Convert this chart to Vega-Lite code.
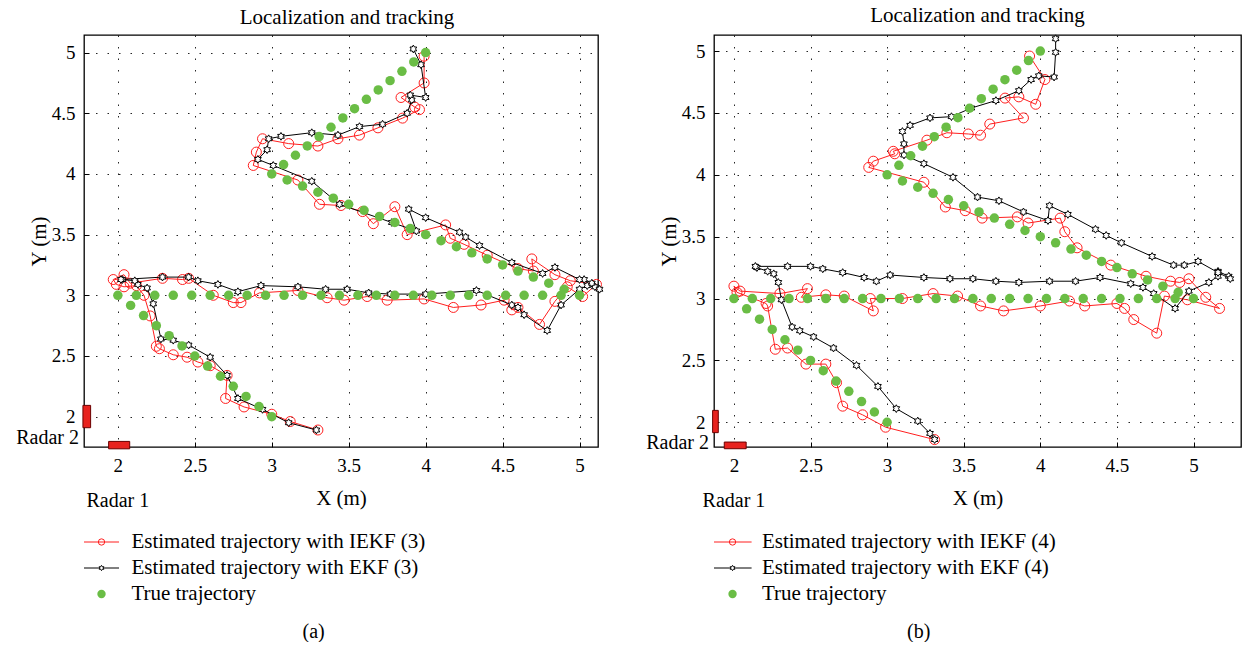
{
"$schema": "https://vega.github.io/schema/vega-lite/v6.json",
"background": "white",
"padding": {"left": 15, "top": 4, "right": 0, "bottom": 0},
"config": {
 "font": "Liberation Serif",
 "view": {"stroke": "#000", "strokeWidth": 1.3},
 "axis": {"labelFont": "Liberation Serif", "labelFontSize": 19, "labelColor": "#000", "titleFont": "Liberation Serif", "titleFontSize": 21, "titleFontWeight": "normal", "titleColor": "#000", "domain": false, "grid": true, "gridColor": "#000", "gridDash": [1.5, 10], "gridOpacity": 0.85, "gridWidth": 1, "tickColor": "#000", "tickSize": -5, "labelPadding": 14, "format": "~g"},
 "axisX": {"titlePadding": 12},
 "axisY": {"titlePadding": 2},
 "title": {"font": "Liberation Serif", "fontSize": 21, "fontWeight": "normal", "color": "#000", "offset": 7}
},
"datasets": {
 "truth": [{"x":3.0,"y":2.0},{"x":2.917,"y":2.083},{"x":2.833,"y":2.167},{"x":2.75,"y":2.25},{"x":2.667,"y":2.333},{"x":2.583,"y":2.417},{"x":2.5,"y":2.5},{"x":2.417,"y":2.583},{"x":2.333,"y":2.667},{"x":2.25,"y":2.75},{"x":2.167,"y":2.833},{"x":2.083,"y":2.917},{"x":2.0,"y":3.0},
  {"x":2.12,"y":3},{"x":2.24,"y":3},{"x":2.36,"y":3},{"x":2.48,"y":3},{"x":2.6,"y":3},{"x":2.72,"y":3},{"x":2.84,"y":3},{"x":2.96,"y":3},{"x":3.08,"y":3},{"x":3.2,"y":3},{"x":3.32,"y":3},{"x":3.44,"y":3},{"x":3.56,"y":3},{"x":3.68,"y":3},{"x":3.8,"y":3},{"x":3.92,"y":3},{"x":4.04,"y":3},{"x":4.16,"y":3},{"x":4.28,"y":3},{"x":4.4,"y":3},{"x":4.52,"y":3},{"x":4.64,"y":3},{"x":4.76,"y":3},{"x":4.88,"y":3},{"x":5.0,"y":3},
  {"x":4.9,"y":3.05},{"x":4.8,"y":3.1},{"x":4.7,"y":3.15},{"x":4.6,"y":3.2},{"x":4.5,"y":3.25},{"x":4.4,"y":3.3},{"x":4.3,"y":3.35},{"x":4.2,"y":3.4},{"x":4.1,"y":3.45},{"x":4.0,"y":3.5},{"x":3.9,"y":3.55},{"x":3.8,"y":3.6},{"x":3.7,"y":3.65},{"x":3.6,"y":3.7},{"x":3.5,"y":3.75},{"x":3.4,"y":3.8},{"x":3.3,"y":3.85},{"x":3.2,"y":3.9},{"x":3.1,"y":3.95},{"x":3.0,"y":4.0},
  {"x":3.077,"y":4.077},{"x":3.154,"y":4.154},{"x":3.231,"y":4.231},{"x":3.308,"y":4.308},{"x":3.385,"y":4.385},{"x":3.462,"y":4.462},{"x":3.538,"y":4.538},{"x":3.615,"y":4.615},{"x":3.692,"y":4.692},{"x":3.769,"y":4.769},{"x":3.846,"y":4.846},{"x":3.923,"y":4.923},{"x":4.0,"y":5.0}],
 "est": [
  {"p":"a","s":"IEKF","i":1,"x":3.30,"y":1.89},{"p":"a","s":"IEKF","i":2,"x":3.12,"y":1.96},{"p":"a","s":"IEKF","i":3,"x":3.00,"y":2.02},{"p":"a","s":"IEKF","i":4,"x":2.82,"y":2.08},{"p":"a","s":"IEKF","i":5,"x":2.70,"y":2.15},{"p":"a","s":"IEKF","i":6,"x":2.71,"y":2.34},{"p":"a","s":"IEKF","i":7,"x":2.60,"y":2.42},{"p":"a","s":"IEKF","i":8,"x":2.52,"y":2.45},{"p":"a","s":"IEKF","i":9,"x":2.45,"y":2.49},{"p":"a","s":"IEKF","i":10,"x":2.36,"y":2.51},
  {"p":"a","s":"IEKF","i":11,"x":2.27,"y":2.56},{"p":"a","s":"IEKF","i":12,"x":2.25,"y":2.58},{"p":"a","s":"IEKF","i":13,"x":2.21,"y":2.83},{"p":"a","s":"IEKF","i":14,"x":2.17,"y":3.00},{"p":"a","s":"IEKF","i":15,"x":2.12,"y":3.08},{"p":"a","s":"IEKF","i":16,"x":2.04,"y":3.07},{"p":"a","s":"IEKF","i":17,"x":1.99,"y":3.09},{"p":"a","s":"IEKF","i":18,"x":1.97,"y":3.13},{"p":"a","s":"IEKF","i":19,"x":2.04,"y":3.17},{"p":"a","s":"IEKF","i":20,"x":2.08,"y":3.10},
  {"p":"a","s":"IEKF","i":21,"x":2.29,"y":3.14},{"p":"a","s":"IEKF","i":22,"x":2.42,"y":3.13},{"p":"a","s":"IEKF","i":23,"x":2.46,"y":3.14},{"p":"a","s":"IEKF","i":24,"x":2.62,"y":3.00},{"p":"a","s":"IEKF","i":25,"x":2.75,"y":2.94},{"p":"a","s":"IEKF","i":26,"x":2.80,"y":2.94},{"p":"a","s":"IEKF","i":27,"x":2.92,"y":3.02},{"p":"a","s":"IEKF","i":28,"x":3.17,"y":3.04},{"p":"a","s":"IEKF","i":29,"x":3.36,"y":2.98},{"p":"a","s":"IEKF","i":30,"x":3.47,"y":2.96},
  {"p":"a","s":"IEKF","i":31,"x":3.62,"y":2.99},{"p":"a","s":"IEKF","i":32,"x":3.75,"y":2.96},{"p":"a","s":"IEKF","i":33,"x":3.99,"y":2.97},{"p":"a","s":"IEKF","i":34,"x":4.18,"y":2.90},{"p":"a","s":"IEKF","i":35,"x":4.36,"y":2.92},{"p":"a","s":"IEKF","i":36,"x":4.51,"y":2.96},{"p":"a","s":"IEKF","i":37,"x":4.56,"y":2.88},{"p":"a","s":"IEKF","i":38,"x":4.60,"y":2.90},{"p":"a","s":"IEKF","i":39,"x":4.74,"y":2.76},{"p":"a","s":"IEKF","i":40,"x":4.84,"y":2.95},
  {"p":"a","s":"IEKF","i":41,"x":4.92,"y":3.07},{"p":"a","s":"IEKF","i":42,"x":5.02,"y":2.99},{"p":"a","s":"IEKF","i":43,"x":5.11,"y":3.09},{"p":"a","s":"IEKF","i":44,"x":4.94,"y":3.12},{"p":"a","s":"IEKF","i":45,"x":4.84,"y":3.17},{"p":"a","s":"IEKF","i":46,"x":4.69,"y":3.30},{"p":"a","s":"IEKF","i":47,"x":4.70,"y":3.20},{"p":"a","s":"IEKF","i":48,"x":4.60,"y":3.22},{"p":"a","s":"IEKF","i":49,"x":4.40,"y":3.33},{"p":"a","s":"IEKF","i":50,"x":4.25,"y":3.42},
  {"p":"a","s":"IEKF","i":51,"x":4.16,"y":3.47},{"p":"a","s":"IEKF","i":52,"x":4.13,"y":3.58},{"p":"a","s":"IEKF","i":53,"x":3.88,"y":3.50},{"p":"a","s":"IEKF","i":54,"x":3.80,"y":3.73},{"p":"a","s":"IEKF","i":55,"x":3.66,"y":3.59},{"p":"a","s":"IEKF","i":56,"x":3.59,"y":3.69},{"p":"a","s":"IEKF","i":57,"x":3.45,"y":3.74},{"p":"a","s":"IEKF","i":58,"x":3.31,"y":3.75},{"p":"a","s":"IEKF","i":59,"x":3.17,"y":3.95},{"p":"a","s":"IEKF","i":60,"x":2.88,"y":4.07},
  {"p":"a","s":"IEKF","i":61,"x":2.90,"y":4.18},{"p":"a","s":"IEKF","i":62,"x":2.94,"y":4.29},{"p":"a","s":"IEKF","i":63,"x":3.11,"y":4.25},{"p":"a","s":"IEKF","i":64,"x":3.30,"y":4.23},{"p":"a","s":"IEKF","i":65,"x":3.43,"y":4.29},{"p":"a","s":"IEKF","i":66,"x":3.57,"y":4.32},{"p":"a","s":"IEKF","i":67,"x":3.69,"y":4.38},{"p":"a","s":"IEKF","i":68,"x":3.85,"y":4.46},{"p":"a","s":"IEKF","i":69,"x":3.96,"y":4.53},{"p":"a","s":"IEKF","i":70,"x":3.93,"y":4.55},
  {"p":"a","s":"IEKF","i":71,"x":3.84,"y":4.63},{"p":"a","s":"IEKF","i":72,"x":3.99,"y":4.75},{"p":"a","s":"IEKF","i":73,"x":3.99,"y":4.97},
  {"p":"a","s":"EKF","i":1,"x":3.29,"y":1.89},{"p":"a","s":"EKF","i":2,"x":3.11,"y":1.95},{"p":"a","s":"EKF","i":3,"x":2.94,"y":2.06},{"p":"a","s":"EKF","i":4,"x":2.78,"y":2.15},{"p":"a","s":"EKF","i":5,"x":2.71,"y":2.34},{"p":"a","s":"EKF","i":6,"x":2.60,"y":2.49},{"p":"a","s":"EKF","i":7,"x":2.46,"y":2.59},{"p":"a","s":"EKF","i":8,"x":2.36,"y":2.63},{"p":"a","s":"EKF","i":9,"x":2.28,"y":2.64},{"p":"a","s":"EKF","i":10,"x":2.23,"y":2.93},
  {"p":"a","s":"EKF","i":11,"x":2.19,"y":3.06},{"p":"a","s":"EKF","i":12,"x":2.13,"y":3.09},{"p":"a","s":"EKF","i":13,"x":2.11,"y":3.12},{"p":"a","s":"EKF","i":14,"x":2.03,"y":3.13},{"p":"a","s":"EKF","i":15,"x":2.02,"y":3.13},{"p":"a","s":"EKF","i":16,"x":2.29,"y":3.15},{"p":"a","s":"EKF","i":17,"x":2.46,"y":3.15},{"p":"a","s":"EKF","i":18,"x":2.52,"y":3.12},{"p":"a","s":"EKF","i":19,"x":2.65,"y":3.09},{"p":"a","s":"EKF","i":20,"x":2.78,"y":3.03},
  {"p":"a","s":"EKF","i":21,"x":2.93,"y":3.08},{"p":"a","s":"EKF","i":22,"x":3.17,"y":3.07},{"p":"a","s":"EKF","i":23,"x":3.35,"y":3.05},{"p":"a","s":"EKF","i":24,"x":3.49,"y":3.05},{"p":"a","s":"EKF","i":25,"x":3.63,"y":3.02},{"p":"a","s":"EKF","i":26,"x":3.77,"y":3.01},{"p":"a","s":"EKF","i":27,"x":4.00,"y":3.01},{"p":"a","s":"EKF","i":28,"x":4.33,"y":3.04},{"p":"a","s":"EKF","i":29,"x":4.56,"y":2.92},{"p":"a","s":"EKF","i":30,"x":4.60,"y":2.90},
  {"p":"a","s":"EKF","i":31,"x":4.64,"y":2.84},{"p":"a","s":"EKF","i":32,"x":4.79,"y":2.71},{"p":"a","s":"EKF","i":33,"x":4.88,"y":2.92},{"p":"a","s":"EKF","i":34,"x":5.00,"y":3.05},{"p":"a","s":"EKF","i":35,"x":5.05,"y":3.08},{"p":"a","s":"EKF","i":36,"x":5.10,"y":3.07},{"p":"a","s":"EKF","i":37,"x":5.13,"y":3.05},{"p":"a","s":"EKF","i":38,"x":5.08,"y":3.10},{"p":"a","s":"EKF","i":39,"x":5.03,"y":3.13},{"p":"a","s":"EKF","i":40,"x":5.00,"y":3.13},
  {"p":"a","s":"EKF","i":41,"x":4.84,"y":3.23},{"p":"a","s":"EKF","i":42,"x":4.76,"y":3.18},{"p":"a","s":"EKF","i":43,"x":4.56,"y":3.27},{"p":"a","s":"EKF","i":44,"x":4.35,"y":3.41},{"p":"a","s":"EKF","i":45,"x":4.26,"y":3.48},{"p":"a","s":"EKF","i":46,"x":4.22,"y":3.52},{"p":"a","s":"EKF","i":47,"x":4.00,"y":3.64},{"p":"a","s":"EKF","i":48,"x":3.89,"y":3.71},{"p":"a","s":"EKF","i":49,"x":3.94,"y":3.53},{"p":"a","s":"EKF","i":50,"x":3.78,"y":3.60},
  {"p":"a","s":"EKF","i":51,"x":3.44,"y":3.75},{"p":"a","s":"EKF","i":52,"x":3.26,"y":3.94},{"p":"a","s":"EKF","i":53,"x":3.01,"y":4.07},{"p":"a","s":"EKF","i":54,"x":2.91,"y":4.12},{"p":"a","s":"EKF","i":55,"x":2.97,"y":4.20},{"p":"a","s":"EKF","i":56,"x":2.98,"y":4.29},{"p":"a","s":"EKF","i":57,"x":3.06,"y":4.31},{"p":"a","s":"EKF","i":58,"x":3.26,"y":4.34},{"p":"a","s":"EKF","i":59,"x":3.43,"y":4.32},{"p":"a","s":"EKF","i":60,"x":3.57,"y":4.39},
  {"p":"a","s":"EKF","i":61,"x":3.72,"y":4.41},{"p":"a","s":"EKF","i":62,"x":3.88,"y":4.50},{"p":"a","s":"EKF","i":63,"x":3.91,"y":4.61},{"p":"a","s":"EKF","i":64,"x":3.90,"y":4.65},{"p":"a","s":"EKF","i":65,"x":4.00,"y":4.63},{"p":"a","s":"EKF","i":66,"x":3.97,"y":4.90},{"p":"a","s":"EKF","i":67,"x":3.92,"y":5.03},
  {"p":"b","s":"IEKF","i":1,"x":3.31,"y":1.86},{"p":"b","s":"IEKF","i":2,"x":2.99,"y":1.96},{"p":"b","s":"IEKF","i":3,"x":2.84,"y":2.06},{"p":"b","s":"IEKF","i":4,"x":2.71,"y":2.13},{"p":"b","s":"IEKF","i":5,"x":2.67,"y":2.32},{"p":"b","s":"IEKF","i":6,"x":2.60,"y":2.47},{"p":"b","s":"IEKF","i":7,"x":2.47,"y":2.47},{"p":"b","s":"IEKF","i":8,"x":2.35,"y":2.60},{"p":"b","s":"IEKF","i":9,"x":2.27,"y":2.59},{"p":"b","s":"IEKF","i":10,"x":2.22,"y":2.94},
  {"p":"b","s":"IEKF","i":11,"x":2.21,"y":2.96},{"p":"b","s":"IEKF","i":12,"x":2.02,"y":3.05},{"p":"b","s":"IEKF","i":13,"x":2.00,"y":3.10},{"p":"b","s":"IEKF","i":14,"x":2.04,"y":3.06},{"p":"b","s":"IEKF","i":15,"x":2.30,"y":3.04},{"p":"b","s":"IEKF","i":16,"x":2.48,"y":3.08},{"p":"b","s":"IEKF","i":17,"x":2.44,"y":3.01},{"p":"b","s":"IEKF","i":18,"x":2.60,"y":3.03},{"p":"b","s":"IEKF","i":19,"x":2.72,"y":3.02},{"p":"b","s":"IEKF","i":20,"x":2.91,"y":2.90},
  {"p":"b","s":"IEKF","i":21,"x":2.89,"y":3.00},{"p":"b","s":"IEKF","i":22,"x":3.10,"y":3.00},{"p":"b","s":"IEKF","i":23,"x":3.30,"y":3.04},{"p":"b","s":"IEKF","i":24,"x":3.46,"y":3.02},{"p":"b","s":"IEKF","i":25,"x":3.61,"y":2.94},{"p":"b","s":"IEKF","i":26,"x":3.76,"y":2.90},{"p":"b","s":"IEKF","i":27,"x":4.00,"y":2.94},{"p":"b","s":"IEKF","i":28,"x":4.19,"y":2.98},{"p":"b","s":"IEKF","i":29,"x":4.29,"y":2.94},{"p":"b","s":"IEKF","i":30,"x":4.50,"y":2.96},
  {"p":"b","s":"IEKF","i":31,"x":4.55,"y":2.92},{"p":"b","s":"IEKF","i":32,"x":4.61,"y":2.83},{"p":"b","s":"IEKF","i":33,"x":4.76,"y":2.72},{"p":"b","s":"IEKF","i":34,"x":4.81,"y":3.02},{"p":"b","s":"IEKF","i":35,"x":4.96,"y":2.99},{"p":"b","s":"IEKF","i":36,"x":5.17,"y":2.92},{"p":"b","s":"IEKF","i":37,"x":5.08,"y":3.01},{"p":"b","s":"IEKF","i":38,"x":4.97,"y":3.16},{"p":"b","s":"IEKF","i":39,"x":4.91,"y":3.13},{"p":"b","s":"IEKF","i":40,"x":4.85,"y":3.14},
  {"p":"b","s":"IEKF","i":41,"x":4.69,"y":3.18},{"p":"b","s":"IEKF","i":42,"x":4.46,"y":3.27},{"p":"b","s":"IEKF","i":43,"x":4.24,"y":3.41},{"p":"b","s":"IEKF","i":44,"x":4.16,"y":3.54},{"p":"b","s":"IEKF","i":45,"x":4.13,"y":3.65},{"p":"b","s":"IEKF","i":46,"x":3.92,"y":3.61},{"p":"b","s":"IEKF","i":47,"x":3.85,"y":3.66},{"p":"b","s":"IEKF","i":48,"x":3.62,"y":3.65},{"p":"b","s":"IEKF","i":49,"x":3.51,"y":3.71},{"p":"b","s":"IEKF","i":50,"x":3.38,"y":3.74},
  {"p":"b","s":"IEKF","i":51,"x":3.24,"y":3.94},{"p":"b","s":"IEKF","i":52,"x":2.88,"y":4.06},{"p":"b","s":"IEKF","i":53,"x":2.91,"y":4.11},{"p":"b","s":"IEKF","i":54,"x":3.05,"y":4.17},{"p":"b","s":"IEKF","i":55,"x":3.04,"y":4.19},{"p":"b","s":"IEKF","i":56,"x":3.26,"y":4.28},{"p":"b","s":"IEKF","i":57,"x":3.39,"y":4.34},{"p":"b","s":"IEKF","i":58,"x":3.53,"y":4.33},{"p":"b","s":"IEKF","i":59,"x":3.61,"y":4.32},{"p":"b","s":"IEKF","i":60,"x":3.67,"y":4.41},
  {"p":"b","s":"IEKF","i":61,"x":3.89,"y":4.46},{"p":"b","s":"IEKF","i":62,"x":3.77,"y":4.62},{"p":"b","s":"IEKF","i":63,"x":3.86,"y":4.63},{"p":"b","s":"IEKF","i":64,"x":3.97,"y":4.57},{"p":"b","s":"IEKF","i":65,"x":4.03,"y":4.77},{"p":"b","s":"IEKF","i":66,"x":3.93,"y":4.96},
  {"p":"b","s":"EKF","i":1,"x":3.31,"y":1.86},{"p":"b","s":"EKF","i":2,"x":3.28,"y":1.91},{"p":"b","s":"EKF","i":3,"x":3.20,"y":2.01},{"p":"b","s":"EKF","i":4,"x":3.06,"y":2.11},{"p":"b","s":"EKF","i":5,"x":2.94,"y":2.29},{"p":"b","s":"EKF","i":6,"x":2.80,"y":2.46},{"p":"b","s":"EKF","i":7,"x":2.65,"y":2.60},{"p":"b","s":"EKF","i":8,"x":2.52,"y":2.69},{"p":"b","s":"EKF","i":9,"x":2.43,"y":2.74},{"p":"b","s":"EKF","i":10,"x":2.38,"y":2.77},
  {"p":"b","s":"EKF","i":11,"x":2.31,"y":2.99},{"p":"b","s":"EKF","i":12,"x":2.29,"y":3.13},{"p":"b","s":"EKF","i":13,"x":2.26,"y":3.20},{"p":"b","s":"EKF","i":14,"x":2.22,"y":3.22},{"p":"b","s":"EKF","i":15,"x":2.15,"y":3.25},{"p":"b","s":"EKF","i":16,"x":2.14,"y":3.26},{"p":"b","s":"EKF","i":17,"x":2.35,"y":3.26},{"p":"b","s":"EKF","i":18,"x":2.50,"y":3.26},{"p":"b","s":"EKF","i":19,"x":2.58,"y":3.24},{"p":"b","s":"EKF","i":20,"x":2.71,"y":3.21},
  {"p":"b","s":"EKF","i":21,"x":2.85,"y":3.17},{"p":"b","s":"EKF","i":22,"x":2.93,"y":3.14},{"p":"b","s":"EKF","i":23,"x":3.02,"y":3.19},{"p":"b","s":"EKF","i":24,"x":3.24,"y":3.17},{"p":"b","s":"EKF","i":25,"x":3.41,"y":3.16},{"p":"b","s":"EKF","i":26,"x":3.56,"y":3.16},{"p":"b","s":"EKF","i":27,"x":3.71,"y":3.14},{"p":"b","s":"EKF","i":28,"x":3.86,"y":3.13},{"p":"b","s":"EKF","i":29,"x":4.06,"y":3.14},{"p":"b","s":"EKF","i":30,"x":4.23,"y":3.14},
  {"p":"b","s":"EKF","i":31,"x":4.39,"y":3.17},{"p":"b","s":"EKF","i":32,"x":4.59,"y":3.12},{"p":"b","s":"EKF","i":33,"x":4.67,"y":3.09},{"p":"b","s":"EKF","i":34,"x":4.74,"y":3.04},{"p":"b","s":"EKF","i":35,"x":4.88,"y":2.92},{"p":"b","s":"EKF","i":36,"x":4.97,"y":3.06},{"p":"b","s":"EKF","i":37,"x":5.10,"y":3.13},{"p":"b","s":"EKF","i":38,"x":5.16,"y":3.18},{"p":"b","s":"EKF","i":39,"x":5.16,"y":3.22},{"p":"b","s":"EKF","i":40,"x":5.23,"y":3.18},
  {"p":"b","s":"EKF","i":41,"x":5.24,"y":3.16},{"p":"b","s":"EKF","i":42,"x":5.16,"y":3.21},{"p":"b","s":"EKF","i":43,"x":5.03,"y":3.30},{"p":"b","s":"EKF","i":44,"x":4.94,"y":3.27},{"p":"b","s":"EKF","i":45,"x":4.87,"y":3.27},{"p":"b","s":"EKF","i":46,"x":4.73,"y":3.34},{"p":"b","s":"EKF","i":47,"x":4.53,"y":3.45},{"p":"b","s":"EKF","i":48,"x":4.43,"y":3.51},{"p":"b","s":"EKF","i":49,"x":4.36,"y":3.56},{"p":"b","s":"EKF","i":50,"x":4.18,"y":3.68},
  {"p":"b","s":"EKF","i":51,"x":4.06,"y":3.75},{"p":"b","s":"EKF","i":52,"x":4.05,"y":3.63},{"p":"b","s":"EKF","i":53,"x":3.89,"y":3.70},{"p":"b","s":"EKF","i":54,"x":3.73,"y":3.79},{"p":"b","s":"EKF","i":55,"x":3.59,"y":3.82},{"p":"b","s":"EKF","i":56,"x":3.43,"y":3.98},{"p":"b","s":"EKF","i":57,"x":3.24,"y":4.09},{"p":"b","s":"EKF","i":58,"x":3.11,"y":4.16},{"p":"b","s":"EKF","i":59,"x":3.11,"y":4.25},{"p":"b","s":"EKF","i":60,"x":3.10,"y":4.35},
  {"p":"b","s":"EKF","i":61,"x":3.15,"y":4.40},{"p":"b","s":"EKF","i":62,"x":3.28,"y":4.46},{"p":"b","s":"EKF","i":63,"x":3.42,"y":4.47},{"p":"b","s":"EKF","i":64,"x":3.55,"y":4.54},{"p":"b","s":"EKF","i":65,"x":3.71,"y":4.60},{"p":"b","s":"EKF","i":66,"x":3.86,"y":4.68},{"p":"b","s":"EKF","i":67,"x":3.94,"y":4.77},{"p":"b","s":"EKF","i":68,"x":3.99,"y":4.80},{"p":"b","s":"EKF","i":69,"x":4.09,"y":4.79},{"p":"b","s":"EKF","i":70,"x":4.10,"y":4.99},
  {"p":"b","s":"EKF","i":71,"x":4.10,"y":5.10}
 ],
 "radar": [
  {"p":"a","x":1.94,"x2":2.077,"y":1.735,"y2":1.796},
  {"p":"a","x":1.773,"x2":1.823,"y":1.909,"y2":2.093},
  {"p":"b","x":1.937,"x2":2.08,"y":1.786,"y2":1.84},
  {"p":"b","x":1.861,"x2":1.898,"y":1.916,"y2":2.096}
 ],
 "notes": [
  {"p":"a","label":"Radar 2","x":1.78,"y":1.826},
  {"p":"a","label":"Radar 1","x":2.0,"y":1.75},
  {"p":"b","label":"Radar 2","x":1.87,"y":1.836},
  {"p":"b","label":"Radar 1","x":2.0,"y":1.80}
 ],
 "leg": [
  {"p":"a","s":"IEKF","label":"Estimated trajectory with IEKF (3)"},
  {"p":"a","s":"EKF","label":"Estimated trajectory with EKF (3)"},
  {"p":"a","s":"True","label":"True trajectory"},
  {"p":"b","s":"IEKF","label":"Estimated trajectory with IEKF (4)"},
  {"p":"b","s":"EKF","label":"Estimated trajectory with EKF (4)"},
  {"p":"b","s":"True","label":"True trajectory"}
 ]
},
"spacing": 39,
"hconcat": [
 {
  "title": {"text": "(a)", "orient": "bottom", "anchor": "middle", "offset": 15, "dx": 3, "fontSize": 20},
  "spacing": 17,
  "vconcat": [
   {
    "width": 514, "height": 412,
    "title": {"text": "Localization and tracking", "frame": "group", "dx": 6},
    "encoding": {
     "x": {"field": "x", "type": "quantitative", "scale": {"domain": [1.78, 5.12], "nice": false, "zero": false}, "axis": {"values": [2, 2.5, 3, 3.5, 4, 4.5, 5], "title": "X (m)"}},
     "y": {"field": "y", "type": "quantitative", "scale": {"domain": [1.75, 5.145], "nice": false, "zero": false}, "axis": {"values": [2, 2.5, 3, 3.5, 4, 4.5, 5], "title": "Y (m)"}}
    },
    "layer": [
     {"data": {"name": "est"}, "transform": [{"filter": "datum.p=='a' && datum.s=='IEKF'"}], "mark": {"type": "line", "color": "#ff1f1f", "strokeWidth": 1, "clip": false}, "encoding": {"order": {"field": "i", "type": "quantitative"}}},
     {"data": {"name": "est"}, "transform": [{"filter": "datum.p=='a' && datum.s=='IEKF'"}], "mark": {"type": "point", "shape": "circle", "filled": false, "color": "#ff1f1f", "strokeWidth": 1, "size": 100, "opacity": 1, "clip": false}},
     {"data": {"name": "est"}, "transform": [{"filter": "datum.p=='a' && datum.s=='EKF'"}], "mark": {"type": "line", "color": "#000000", "strokeWidth": 1, "clip": false}, "encoding": {"order": {"field": "i", "type": "quantitative"}}},
     {"data": {"name": "est"}, "transform": [{"filter": "datum.p=='a' && datum.s=='EKF'"}], "mark": {"type": "point", "shape": "M0,-1L0.289,-0.5L0.866,-0.5L0.577,0L0.866,0.5L0.289,0.5L0,1L-0.289,0.5L-0.866,0.5L-0.577,0L-0.866,-0.5L-0.289,-0.5Z", "filled": true, "fill": "#ffffff", "stroke": "#000000", "strokeWidth": 1, "size": 60, "opacity": 1, "clip": false}},
     {"data": {"name": "truth"}, "mark": {"type": "point", "shape": "circle", "filled": true, "color": "#6abd45", "size": 90, "opacity": 1, "strokeWidth": 0}},
     {"data": {"name": "radar"}, "transform": [{"filter": "datum.p=='a'"}], "mark": {"type": "rect", "fill": "#e8231f", "stroke": "#6a0000", "strokeWidth": 1, "clip": false}, "encoding": {"x2": {"field": "x2"}, "y2": {"field": "y2"}}},
     {"data": {"name": "notes"}, "transform": [{"filter": "datum.p=='a' && datum.label=='Radar 2'"}], "mark": {"type": "text", "align": "right", "baseline": "middle", "dx": -5, "fontSize": 20, "font": "Liberation Serif", "color": "#000", "clip": false}, "encoding": {"text": {"field": "label"}}},
     {"data": {"name": "notes"}, "transform": [{"filter": "datum.p=='a' && datum.label=='Radar 1'"}], "mark": {"type": "text", "align": "center", "baseline": "middle", "dy": 54, "fontSize": 20, "font": "Liberation Serif", "color": "#000", "clip": false}, "encoding": {"text": {"field": "label"}}}
    ]
   },
   {
    "width": 515, "height": 78,
    "view": {"stroke": null},
    "data": {"name": "leg"},
    "transform": [{"filter": "datum.p=='a'"}],
    "encoding": {"y": {"field": "s", "type": "nominal", "sort": ["IEKF", "EKF", "True"], "axis": null}},
    "layer": [
     {"transform": [{"filter": "datum.s=='IEKF'"}], "mark": {"type": "rule", "color": "#ff1f1f", "strokeWidth": 1}, "encoding": {"x": {"datum": 0, "type": "quantitative", "scale": {"domain": [0, 100]}, "axis": null}, "x2": {"datum": 6.8}}},
     {"transform": [{"filter": "datum.s=='EKF'"}], "mark": {"type": "rule", "color": "#000000", "strokeWidth": 1}, "encoding": {"x": {"datum": 0, "type": "quantitative"}, "x2": {"datum": 6.8}}},
     {"transform": [{"filter": "datum.s=='IEKF'"}], "mark": {"type": "point", "shape": "circle", "filled": false, "color": "#ff1f1f", "strokeWidth": 1, "size": 40, "opacity": 1}, "encoding": {"x": {"datum": 3.4, "type": "quantitative"}}},
     {"transform": [{"filter": "datum.s=='EKF'"}], "mark": {"type": "point", "shape": "M0,-1L0.289,-0.5L0.866,-0.5L0.577,0L0.866,0.5L0.289,0.5L0,1L-0.289,0.5L-0.866,0.5L-0.577,0L-0.866,-0.5L-0.289,-0.5Z", "filled": true, "fill": "#ffffff", "stroke": "#000000", "strokeWidth": 1, "size": 28, "opacity": 1}, "encoding": {"x": {"datum": 3.4, "type": "quantitative"}}},
     {"transform": [{"filter": "datum.s=='True'"}], "mark": {"type": "point", "shape": "circle", "filled": true, "color": "#6abd45", "size": 70, "opacity": 1, "strokeWidth": 0}, "encoding": {"x": {"datum": 3.4, "type": "quantitative"}}},
     {"mark": {"type": "text", "align": "left", "baseline": "middle", "fontSize": 21, "font": "Liberation Serif", "color": "#000"}, "encoding": {"x": {"datum": 9.2, "type": "quantitative"}, "text": {"field": "label"}}}
    ]
   }
  ]
 },
 {
  "title": {"text": "(b)", "orient": "bottom", "anchor": "middle", "offset": 15, "dx": -25, "fontSize": 20},
  "spacing": 17,
  "vconcat": [
   {
    "width": 527, "height": 412,
    "title": {"text": "Localization and tracking", "frame": "group", "dx": 0},
    "encoding": {
     "x": {"field": "x", "type": "quantitative", "scale": {"domain": [1.87, 5.31], "nice": false, "zero": false}, "axis": {"values": [2, 2.5, 3, 3.5, 4, 4.5, 5], "title": "X (m)"}},
     "y": {"field": "y", "type": "quantitative", "scale": {"domain": [1.80, 5.13], "nice": false, "zero": false}, "axis": {"values": [2, 2.5, 3, 3.5, 4, 4.5, 5], "title": "Y (m)"}}
    },
    "layer": [
     {"data": {"name": "est"}, "transform": [{"filter": "datum.p=='b' && datum.s=='IEKF'"}], "mark": {"type": "line", "color": "#ff1f1f", "strokeWidth": 1, "clip": false}, "encoding": {"order": {"field": "i", "type": "quantitative"}}},
     {"data": {"name": "est"}, "transform": [{"filter": "datum.p=='b' && datum.s=='IEKF'"}], "mark": {"type": "point", "shape": "circle", "filled": false, "color": "#ff1f1f", "strokeWidth": 1, "size": 100, "opacity": 1, "clip": false}},
     {"data": {"name": "est"}, "transform": [{"filter": "datum.p=='b' && datum.s=='EKF'"}], "mark": {"type": "line", "color": "#000000", "strokeWidth": 1, "clip": false}, "encoding": {"order": {"field": "i", "type": "quantitative"}}},
     {"data": {"name": "est"}, "transform": [{"filter": "datum.p=='b' && datum.s=='EKF'"}], "mark": {"type": "point", "shape": "M0,-1L0.289,-0.5L0.866,-0.5L0.577,0L0.866,0.5L0.289,0.5L0,1L-0.289,0.5L-0.866,0.5L-0.577,0L-0.866,-0.5L-0.289,-0.5Z", "filled": true, "fill": "#ffffff", "stroke": "#000000", "strokeWidth": 1, "size": 60, "opacity": 1, "clip": false}},
     {"data": {"name": "truth"}, "mark": {"type": "point", "shape": "circle", "filled": true, "color": "#6abd45", "size": 90, "opacity": 1, "strokeWidth": 0}},
     {"data": {"name": "radar"}, "transform": [{"filter": "datum.p=='b'"}], "mark": {"type": "rect", "fill": "#e8231f", "stroke": "#6a0000", "strokeWidth": 1, "clip": false}, "encoding": {"x2": {"field": "x2"}, "y2": {"field": "y2"}}},
     {"data": {"name": "notes"}, "transform": [{"filter": "datum.p=='b' && datum.label=='Radar 2'"}], "mark": {"type": "text", "align": "right", "baseline": "middle", "dx": -5, "fontSize": 20, "font": "Liberation Serif", "color": "#000", "clip": false}, "encoding": {"text": {"field": "label"}}},
     {"data": {"name": "notes"}, "transform": [{"filter": "datum.p=='b' && datum.label=='Radar 1'"}], "mark": {"type": "text", "align": "center", "baseline": "middle", "dy": 54, "fontSize": 20, "font": "Liberation Serif", "color": "#000", "clip": false}, "encoding": {"text": {"field": "label"}}}
    ]
   },
   {
    "width": 515, "height": 78,
    "view": {"stroke": null},
    "data": {"name": "leg"},
    "transform": [{"filter": "datum.p=='b'"}],
    "encoding": {"y": {"field": "s", "type": "nominal", "sort": ["IEKF", "EKF", "True"], "axis": null}},
    "layer": [
     {"transform": [{"filter": "datum.s=='IEKF'"}], "mark": {"type": "rule", "color": "#ff1f1f", "strokeWidth": 1}, "encoding": {"x": {"datum": 0, "type": "quantitative", "scale": {"domain": [0, 100]}, "axis": null}, "x2": {"datum": 7.3}}},
     {"transform": [{"filter": "datum.s=='EKF'"}], "mark": {"type": "rule", "color": "#000000", "strokeWidth": 1}, "encoding": {"x": {"datum": 0, "type": "quantitative"}, "x2": {"datum": 7.3}}},
     {"transform": [{"filter": "datum.s=='IEKF'"}], "mark": {"type": "point", "shape": "circle", "filled": false, "color": "#ff1f1f", "strokeWidth": 1, "size": 40, "opacity": 1}, "encoding": {"x": {"datum": 3.6, "type": "quantitative"}}},
     {"transform": [{"filter": "datum.s=='EKF'"}], "mark": {"type": "point", "shape": "M0,-1L0.289,-0.5L0.866,-0.5L0.577,0L0.866,0.5L0.289,0.5L0,1L-0.289,0.5L-0.866,0.5L-0.577,0L-0.866,-0.5L-0.289,-0.5Z", "filled": true, "fill": "#ffffff", "stroke": "#000000", "strokeWidth": 1, "size": 28, "opacity": 1}, "encoding": {"x": {"datum": 3.6, "type": "quantitative"}}},
     {"transform": [{"filter": "datum.s=='True'"}], "mark": {"type": "point", "shape": "circle", "filled": true, "color": "#6abd45", "size": 70, "opacity": 1, "strokeWidth": 0}, "encoding": {"x": {"datum": 3.6, "type": "quantitative"}}},
     {"mark": {"type": "text", "align": "left", "baseline": "middle", "fontSize": 21, "font": "Liberation Serif", "color": "#000"}, "encoding": {"x": {"datum": 9.3, "type": "quantitative"}, "text": {"field": "label"}}}
    ]
   }
  ]
 }
]
}
